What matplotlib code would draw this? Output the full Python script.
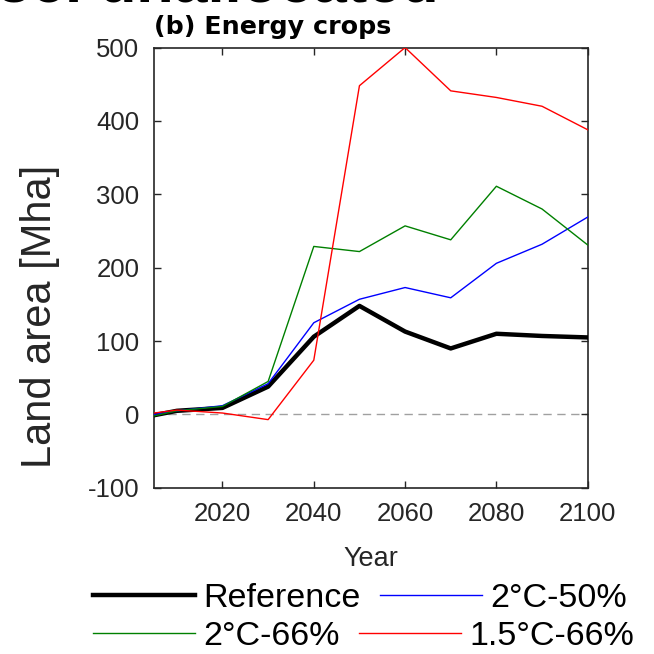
import matplotlib
matplotlib.use("Agg")
import matplotlib.pyplot as plt

plt.rcParams['font.family'] = ['Liberation Sans', 'DejaVu Sans']
plt.rcParams['axes.unicode_minus'] = False

years = [2005, 2010, 2020, 2030, 2040, 2050, 2060, 2070, 2080, 2090, 2100]
reference = [-1, 5, 9, 38, 106, 148, 113, 90, 110, 107, 105]
c2_50 = [0, 5, 12, 42, 125, 157, 173, 159, 206, 232, 269]
c2_66 = [-2, 5, 11, 45, 229, 222, 257, 238, 311, 280, 231]
c15_66 = [2, 6, 2, -7, 74, 448, 500, 441, 432, 420, 388]

series_labels = ["Reference", "2°C-50%", "2°C-66%", "1.5°C-66%"]
x_ticks = [2020, 2040, 2060, 2080, 2100]
y_ticks = [-100, 0, 100, 200, 300, 400, 500]

ink = "#262626"

fig = plt.figure(figsize=(6.54, 6.54), dpi=100)
ax = fig.add_axes([0.2355, 0.2540, 0.6631, 0.6733])

ax.axhline(0, color="#a0a0a0", lw=1.0, ls=(0, (6, 4)), zorder=1)
h_ref, = ax.plot(years, reference, color="black", lw=3.2, label=series_labels[0], zorder=3)
h_b, = ax.plot(years, c2_50, color="#0000ff", lw=1.0, label=series_labels[1], zorder=4)
h_g, = ax.plot(years, c2_66, color="#008000", lw=1.0, label=series_labels[2], zorder=4)
h_r, = ax.plot(years, c15_66, color="#ff0000", lw=1.0, label=series_labels[3], zorder=5)

ax.set_xlim(2005, 2100)
ax.set_ylim(-100, 500)
ax.set_xticks(x_ticks)
ax.set_yticks(y_ticks)
ax.tick_params(direction="in", length=5, width=1, colors=ink, labelsize=18.5,
               top=True, right=True, pad=10.5)
for s in ax.spines.values():
    s.set_color(ink)
    s.set_linewidth(1.2)

ax.set_xlabel("Year", fontsize=19.5, color=ink, labelpad=14)
ax.set_ylabel("Land area [Mha]", fontsize=30, color=ink)
ax.yaxis.set_label_coords(-0.217, 0.39)
ax.set_title("(b) Energy crops", fontsize=18.3, fontweight="bold", loc="left",
             pad=10, x=0.0, family="DejaVu Sans")

# heading of the panel above, cut by the page edge
fig.text(-0.005, 0.997, "3c. unallocated", fontsize=44, fontweight="bold",
         ha="left", va="baseline")

leg_kw = dict(ncol=2, frameon=False, fontsize=24.5, handlelength=3.0,
              handletextpad=0.25, columnspacing=0.55, borderpad=0,
              borderaxespad=0, loc="center left")
fig.legend(handles=[h_ref, h_b], bbox_to_anchor=(0.142, 0.0856), **leg_kw)
fig.legend(handles=[h_g, h_r], bbox_to_anchor=(0.142, 0.0275), **leg_kw)

fig.savefig("out.png", dpi=100)
